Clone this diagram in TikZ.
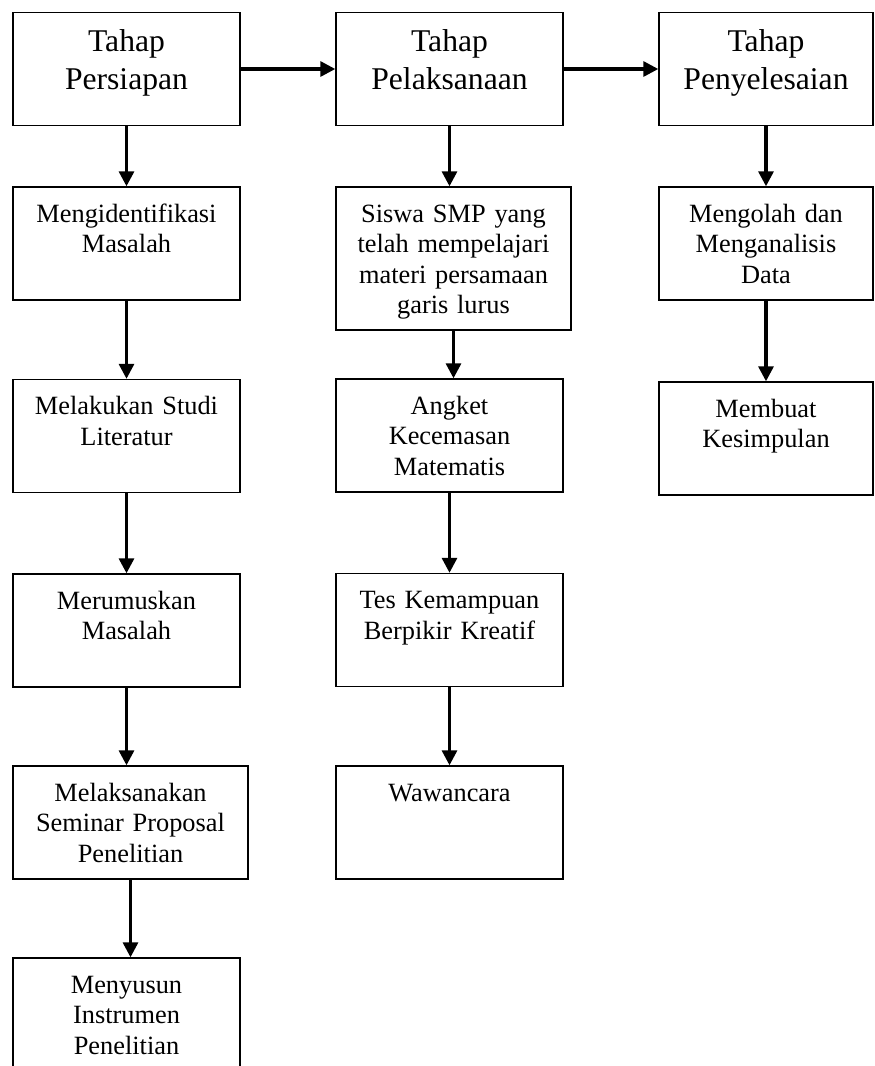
\documentclass[tikz,border=0pt]{standalone}
\usepackage{fontspec}
\setmainfont{Liberation Serif}
\usetikzlibrary{arrows.meta,positioning}

\tikzset{
stepbox/.style={draw,line width=0.8pt,inner sep=0pt,align=center,text width=4.54cm,font=\fontsize{15}{17.4}\selectfont,text height=0.70cm,text depth=1.56cm},
headbox/.style={stepbox,font=\fontsize{18}{21.6}\selectfont,text height=0.786cm,text depth=1.48cm},
flow/.style={line width=1.8pt,-{Triangle[length=0.3cm,width=0.3cm]}}
}

\begin{document}
\begin{tikzpicture}
\useasboundingbox (0,0) rectangle (17.48,-21.32);

\node[headbox] (P1) at (2.53,-1.38) {Tahap\\Persiapan};

\node[headbox] (L1) at (8.99,-1.38) {Tahap\\Pelaksanaan};

\node[headbox,text width=4.28cm] (S1) at (15.32,-1.38) {Tahap\\Penyelesaian};

\node[stepbox] (P2) at (2.53,-4.87) {Mengidentifikasi\\Masalah};

\node[stepbox] (P3) at (2.53,-8.72) {Melakukan Studi\\Literatur};

\node[stepbox] (P4) at (2.53,-12.61) {Merumuskan\\Masalah};

\node[stepbox,text width=4.70cm] (P5) at (2.61,-16.45) {Melaksanakan\\Seminar Proposal\\Penelitian};

\node[stepbox] (P6) at (2.53,-20.29) {Menyusun\\Instrumen\\Penelitian};

\node[stepbox,text width=4.70cm,text depth=2.16cm] (L2) at (9.07,-5.17) {Siswa SMP yang\\telah mempelajari\\materi persamaan\\garis lurus};

\node[stepbox] (L3) at (8.99,-8.71) {Angket\\Kecemasan\\Matematis};

\node[stepbox] (L4) at (8.99,-12.60) {Tes Kemampuan\\Berpikir Kreatif};

\node[stepbox] (L5) at (8.99,-16.45) {Wawancara};

\node[stepbox,text width=4.28cm] (S2) at (15.32,-4.87) {Mengolah dan\\Menganalisis\\Data};

\node[stepbox,text width=4.28cm] (S3) at (15.32,-8.77) {Membuat\\Kesimpulan};

\draw[flow] (P1) -- (L1);

\draw[flow] (L1) -- (S1);

\draw[flow] (P1.south) -- (P1.south |- P2.north);

\draw[flow] (P2.south) -- (P2.south |- P3.north);

\draw[flow] (P3.south) -- (P3.south |- P4.north);

\draw[flow] (P4.south) -- (P4.south |- P5.north);

\draw[flow] (P5.south) -- (P5.south |- P6.north);

\draw[flow] (L1.south) -- (L1.south |- L2.north);

\draw[flow] (L2.south) -- (L2.south |- L3.north);

\draw[flow] (L3.south) -- (L3.south |- L4.north);

\draw[flow] (L4.south) -- (L4.south |- L5.north);

\draw[flow] (S1.south) -- (S1.south |- S2.north);

\draw[flow] (S2.south) -- (S2.south |- S3.north);

\end{tikzpicture}
\end{document}
